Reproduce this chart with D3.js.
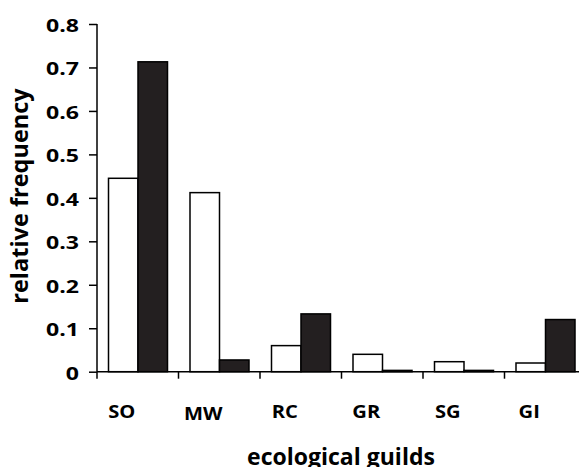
<!DOCTYPE html>
<html>
<head>
<meta charset="utf-8">
<style>
  body { margin: 0; background: #fff; }
  text { font-family: "Open Sans", sans-serif; font-weight: bold; fill: #000; }
</style>
</head>
<body>
<script src="https://cdn.jsdelivr.net/npm/d3@7/dist/d3.min.js"></script>
<script>

var guilds   = ['SO', 'MW', 'RC', 'GR', 'SG', 'GI'],
    white    = [0.445, 0.412, 0.060, 0.040, 0.023, 0.020],
    black    = [0.713, 0.027, 0.133, 0.003, 0.003, 0.120],
    yTicks   = [0, 0.1, 0.2, 0.3, 0.4, 0.5, 0.6, 0.7, 0.8];

var width = 579, height = 467;

var svg = d3.select('body').append('svg')
            .attr('width', width)
            .attr('height', height);

var x = d3.scaleBand().domain(guilds).range([97, 586]),
    y = d3.scaleLinear().domain([0, 0.8]).range([371.7, 24]);

var gap = 11.5, barW = 29.5;

// bars
var groups = svg.selectAll('g.guild')
  .data(guilds)
  .enter().append('g')
  .attr('class', 'guild');

groups.append('rect')
  .attr('x', function(d){ return x(d) + gap })
  .attr('y', function(d, i){ return y(white[i]) })
  .attr('width', barW)
  .attr('height', function(d, i){ return y(0) - y(white[i]) })
  .attr('fill', '#fff')
  .attr('stroke', '#000')
  .attr('stroke-width', 1.5);

groups.append('rect')
  .attr('x', function(d){ return x(d) + gap + barW })
  .attr('y', function(d, i){ return y(black[i]) })
  .attr('width', barW)
  .attr('height', function(d, i){ return y(0) - y(black[i]) })
  .attr('fill', '#231f20')
  .attr('stroke', '#000')
  .attr('stroke-width', 1.5);

// y axis (labels stretched sideways like the original)
var sx = 1.32;
var yAxis = svg.append('g')
  .attr('transform', 'translate(97,0)')
  .call(d3.axisLeft(y).tickValues(yTicks).tickSize(8)
        .tickFormat(function(d){ return d === 0 ? '0' : d3.format('.1f')(d) }));
yAxis.select('.domain').attr('d', 'M0,' + y(0.8) + 'V' + y(0)).attr('stroke-width', 1.5);
yAxis.selectAll('.tick line').attr('stroke-width', 1.5);
yAxis.selectAll('.tick text')
  .attr('x', -18 / sx)
  .attr('dy', '0.42em')
  .attr('transform', 'scale(' + sx + ',1)')
  .attr('fill', '#000')
  .style('font-size', '17.5px')
  .style('font-family', '"Open Sans", sans-serif')
  .style('font-weight', 'bold');

// x axis
var xAxis = svg.append('g')
  .attr('transform', 'translate(0,' + y(0) + ')');
xAxis.append('line')
  .attr('x1', x.range()[0]).attr('x2', x.range()[1])
  .attr('stroke', '#000').attr('stroke-width', 1.5);
xAxis.selectAll('line.tick')
  .data(guilds)
  .enter().append('line')
  .attr('class', 'tick')
  .attr('x1', function(d){ return x(d) }).attr('x2', function(d){ return x(d) })
  .attr('y1', 0).attr('y2', 7)
  .attr('stroke', '#000').attr('stroke-width', 1.5);

var sl = 1.12;
xAxis.selectAll('text')
  .data(guilds)
  .enter().append('text')
  .attr('x', function(d){ return (x(d) + x.bandwidth() / 2 - 16) / sl })
  .attr('y', function(d){ return d === 'MW' ? 48.3 : 46 })
  .attr('transform', 'scale(' + sl + ',1)')
  .attr('text-anchor', 'middle')
  .style('font-size', '18px')
  .text(function(d){ return d });

// titles
svg.append('text')
  .attr('transform', 'translate(28,196) rotate(-90)')
  .attr('text-anchor', 'middle')
  .style('font-size', '23.5px')
  .text('relative frequency');

svg.append('text')
  .attr('x', 341)
  .attr('y', 465)
  .attr('text-anchor', 'middle')
  .style('font-size', '23px')
  .text('ecological guilds');

</script>
</body>
</html>
